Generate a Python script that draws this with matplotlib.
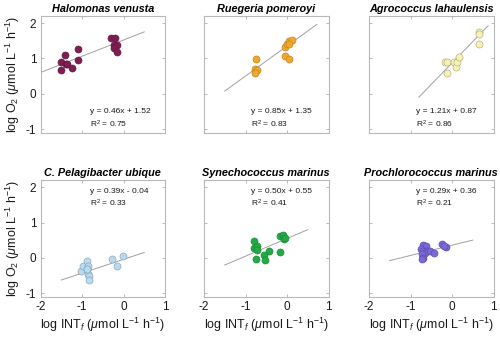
import numpy as np
import matplotlib
matplotlib.use("Agg")
import matplotlib.pyplot as plt

plt.rcParams['font.family'] = ['Liberation Sans', 'DejaVu Sans']
plt.rcParams['mathtext.fontset'] = 'custom'
plt.rcParams['mathtext.rm'] = 'Liberation Sans'
plt.rcParams['mathtext.it'] = 'Liberation Sans:italic'
plt.rcParams['axes.unicode_minus'] = False

# species (panel order) and colours
names = ['Halomonas venusta', 'Ruegeria pomeroyi', 'Agrococcus lahaulensis',
         'C. Pelagibacter ubique', 'Synechococcus marinus', 'Prochlorococcus marinus']
face = ['#7d1d52', '#f0a82c', '#f7f2b4', '#b8d9ee', '#22aa44', '#7a68d6']
edge = ['#5e1540', '#b87d1c', '#a8a478', '#7f9fb5', '#188234', '#5546a8']

# log INT_f values
x1 = [-1.51, -1.51, -1.40, -1.39, -1.36, -1.25, -1.09, -1.09, -0.30, -0.20, -0.23, -0.15, -0.22, -0.15]
x2 = [-0.74, -0.77, -0.72, -0.77, -0.04, 0.00, 0.04, 0.12, 0.06, -0.04, 0.04]
x3 = [-0.18, -0.12, -0.12, 0.06, 0.10, 0.11, 0.16, 0.65, 0.66, 0.64]
x4 = [-1.02, -0.97, -0.87, -0.86, -0.87, -0.85, -0.84, -0.82, -0.89, -0.28, -0.16, -0.01]
x5 = [-0.79, -0.79, -0.72, -0.72, -0.74, -0.56, -0.54, -0.44, -0.18, -0.16, -0.10, -0.08, -0.04]
x6 = [-0.69, -0.63, -0.74, -0.69, -0.60, -0.64, -0.72, -0.52, -0.44, -0.69, -0.72, -0.23, -0.14, -0.19]

# log O2 values
y1 = [0.89, 0.67, 1.10, 0.84, 0.83, 0.72, 1.26, 0.95, 1.59, 1.59, 1.39, 1.38, 1.30, 1.19]
y2 = [0.98, 0.69, 0.67, 0.60, 1.33, 1.42, 1.49, 1.53, 1.42, 1.07, 0.97]
y3 = [0.90, 0.90, 0.58, 0.90, 0.76, 0.89, 1.03, 1.75, 1.68, 1.40]
y4 = [-0.37, -0.24, -0.10, -0.23, -0.32, -0.46, -0.51, -0.62, -0.32, -0.04, -0.23, 0.06]
y5 = [0.48, 0.27, 0.34, 0.23, -0.04, 0.08, -0.06, 0.20, 0.17, 0.62, 0.64, 0.55, 0.57]
y6 = [0.36, 0.34, 0.26, 0.20, 0.20, 0.14, 0.12, 0.20, 0.14, 0.01, -0.02, 0.39, 0.31, 0.35]

xs = [x1, x2, x3, x4, x5, x6]
ys = [y1, y2, y3, y4, y5, y6]

# fitted lines: slope, intercept, r2, x range of drawn line
slopes = [0.46, 0.85, 1.21, 0.39, 0.50, 0.29]
inters = [1.52, 1.35, 0.87, -0.04, 0.55, 0.36]
r2 = [0.75, 0.83, 0.86, 0.33, 0.41, 0.21]
line_x = [(-2, 0.5), (-1.5, 0.72), (-0.8, 0.87), (-1.5, 0.5), (-1.5, 0.5), (-1.5, 0.5)]

fig = plt.figure(figsize=(5, 3.4), dpi=100)
lefts = [0.081, 0.408, 0.738]
bottoms = [0.610, 0.127]
w, h = 0.249, 0.343

for i in range(6):
    r, c = i // 3, i % 3
    ax = fig.add_axes([lefts[c], bottoms[r], w, h])
    lx = np.array(line_x[i])
    ax.plot(lx, slopes[i] * lx + inters[i], color='#a0a0a0', lw=0.7, zorder=1)
    ax.scatter(xs[i], ys[i], s=26, c=face[i], edgecolors=edge[i], linewidths=0.4, zorder=2)
    ax.set_xlim(-2, 1)
    ax.set_ylim(-1.1, 2.2)
    ax.set_xticks([-2, -1, 0, 1])
    ax.set_yticks([-1, 0, 1, 2])
    ax.tick_params(direction='in', length=2.5, width=0.6, colors='#b0b0b0',
                   labelcolor='#1a1a1a', labelsize=8.5, top=True, right=True, pad=3)
    for sp in ax.spines.values():
        sp.set_color('#b8b8b8')
        sp.set_linewidth(0.8)
    if c != 0:
        ax.set_yticklabels([])
    else:
        ax.set_ylabel('log O$_2$ ($\\mu$mol L$^{-1}$ h$^{-1}$)', fontsize=9, color='#1a1a1a', labelpad=3)
    if r == 0:
        ax.set_xticklabels([])
    else:
        ax.set_xlabel('log INT$_f$ ($\\mu$mol L$^{-1}$ h$^{-1}$)', fontsize=9, color='#1a1a1a', labelpad=2)
    ax.set_title(names[i], fontsize=7.8, fontweight='bold', style='italic', pad=3)
    sign = '+' if inters[i] >= 0 else '-'
    eq = 'y = %.2fx %s %.2f' % (slopes[i], sign, abs(inters[i]))
    rr = 'R$^2$ = %.2f' % r2[i]
    if r == 0:
        ty1, ty2 = 0.18, 0.075
    else:
        ty1, ty2 = 0.90, 0.80
    tx = 0.40 if c == 0 else 0.38
    ax.text(tx, ty1, eq, transform=ax.transAxes, fontsize=6, va='center', color='#1a1a1a')
    ax.text(tx, ty2, rr, transform=ax.transAxes, fontsize=6, va='center', color='#1a1a1a')

fig.savefig('out.png', dpi=100)
